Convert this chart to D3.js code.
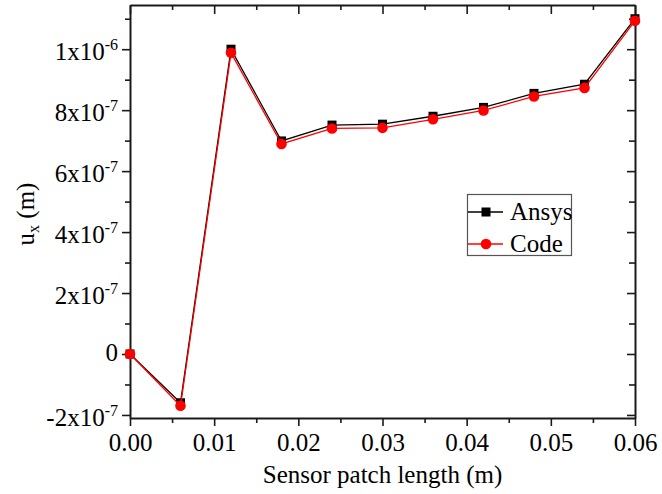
<!DOCTYPE html>
<html>
<head>
<meta charset="utf-8">
<script src="https://cdn.jsdelivr.net/npm/d3@7"></script>
<style>
  html, body { margin: 0; padding: 0; background: #fff; }
  svg { display: block; }
</style>
</head>
<body>
<svg id="chart" width="662" height="494"></svg>
<script>
// ---- data ----
const xValues = [0, 0.006, 0.012, 0.018, 0.024, 0.030, 0.036, 0.042, 0.048, 0.054, 0.060];
const ansys = [0, -1.60e-7, 1.000e-6, 0.699e-6, 0.751e-6, 0.754e-6, 0.780e-6, 0.809e-6, 0.855e-6, 0.885e-6, 1.100e-6];
const code  = [0, -1.70e-7, 0.988e-6, 0.689e-6, 0.740e-6, 0.742e-6, 0.770e-6, 0.799e-6, 0.845e-6, 0.873e-6, 1.093e-6];
const seriesNames = ["Ansys", "Code"];
const xTicks = [0, 0.01, 0.02, 0.03, 0.04, 0.05, 0.06];
const xTickLabels = ["0.00", "0.01", "0.02", "0.03", "0.04", "0.05", "0.06"];
const xMinorTicks = [0.005, 0.015, 0.025, 0.035, 0.045, 0.055];
const yTicks = [-2e-7, 0, 2e-7, 4e-7, 6e-7, 8e-7, 1e-6];
const yTickMantissa = ["-2x10", "0", "2x10", "4x10", "6x10", "8x10", "1x10"];
const yTickExponent = ["-7", "", "-7", "-7", "-7", "-7", "-6"];
const yMinorTicks = [-1e-7, 1e-7, 3e-7, 5e-7, 7e-7, 9e-7, 1.1e-6];
const xTitle = "Sensor patch length (m)";

// ---- layout ----
const FONT = "Liberation Serif";
const L = 130, R = 635, T = 5, B = 418;
const svg = d3.select("#chart");
const x = d3.scaleLinear().domain([0, 0.06]).range([L, R]);
const y = d3.scaleLinear().domain([-2.1e-7, 1.145e-6]).range([B, T]);
const axisColor = "#1a1a1a";
const fontSize = 25;

function styleAxis(g) {
  g.attr("font-family", null);
  g.selectAll("path.domain").attr("stroke", axisColor).attr("stroke-width", 2);
  g.selectAll(".tick line").attr("stroke", axisColor).attr("stroke-width", 1.6);
}

// bottom axis (outward ticks)
const gB = svg.append("g").attr("transform", `translate(0,${B})`)
  .call(d3.axisBottom(x).tickValues(xTicks).tickSize(8).tickSizeOuter(0)
    .tickFormat((d, i) => xTickLabels[i]));
styleAxis(gB);
gB.selectAll(".tick text").attr("y", 33).attr("dy", 0)
  .attr("font-size", fontSize).style("font-family", FONT).attr("fill", "#000");
svg.append("g").attr("transform", `translate(0,${B})`)
  .call(d3.axisBottom(x).tickValues(xMinorTicks).tickSize(5).tickSizeOuter(0).tickFormat(() => ""))
  .call(g => g.select("path.domain").remove()).call(styleAxis);

// top axis (inward ticks)
svg.append("g").attr("transform", `translate(0,${T})`)
  .call(d3.axisBottom(x).tickValues(xTicks).tickSize(9).tickSizeOuter(0).tickFormat(() => ""))
  .call(styleAxis);
svg.append("g").attr("transform", `translate(0,${T})`)
  .call(d3.axisBottom(x).tickValues(xMinorTicks).tickSize(5).tickSizeOuter(0).tickFormat(() => ""))
  .call(g => g.select("path.domain").remove()).call(styleAxis);

// left axis (outward ticks)
const gL = svg.append("g").attr("transform", `translate(${L},0)`)
  .call(d3.axisLeft(y).tickValues(yTicks).tickSize(8).tickSizeOuter(0).tickPadding(4).tickFormat(() => ""));
styleAxis(gL);
gL.selectAll(".tick text").each(function(d, i) {
  const t = d3.select(this);
  t.text(null).attr("font-size", fontSize).style("font-family", FONT)
    .attr("fill", "#000").attr("dy", 0)
    .attr("y", yTickExponent[i] ? 10.5 : 7);
  t.append("tspan").text(yTickMantissa[i]);
  if (yTickExponent[i]) {
    t.append("tspan").attr("font-size", 16).attr("dy", -10).text(yTickExponent[i]);
  }
});
svg.append("g").attr("transform", `translate(${L},0)`)
  .call(d3.axisLeft(y).tickValues(yMinorTicks).tickSize(5).tickSizeOuter(0).tickFormat(() => ""))
  .call(g => g.select("path.domain").remove()).call(styleAxis);

// right axis (inward ticks)
svg.append("g").attr("transform", `translate(${R},0)`)
  .call(d3.axisRight(y).tickValues(yTicks).tickSize(-8).tickSizeOuter(0).tickFormat(() => ""))
  .call(styleAxis);
svg.append("g").attr("transform", `translate(${R},0)`)
  .call(d3.axisRight(y).tickValues(yMinorTicks).tickSize(-6).tickSizeOuter(0).tickFormat(() => ""))
  .call(g => g.select("path.domain").remove()).call(styleAxis);

// axis titles
svg.append("text").attr("x", (L + R) / 2).attr("y", 483).attr("text-anchor", "middle")
  .attr("font-size", fontSize).style("font-family", FONT).attr("fill", "#000").text(xTitle);
const yt = svg.append("text").attr("transform", "translate(34,214) rotate(-90)")
  .attr("text-anchor", "middle").attr("font-size", fontSize).style("font-family", FONT).attr("fill", "#000");
yt.append("tspan").text("u");
yt.append("tspan").attr("font-size", 16).attr("dy", 5).text("x");
yt.append("tspan").attr("dy", -5).text(" (m)");

// series
const ansysData = xValues.map((v, i) => [v, ansys[i]]);
const codeData = xValues.map((v, i) => [v, code[i]]);
const line = d3.line().x(d => x(d[0])).y(d => y(d[1]));

svg.append("path").datum(ansysData).attr("d", line)
  .attr("fill", "none").attr("stroke", "#000").attr("stroke-width", 1.3);
svg.append("g").selectAll("rect").data(ansysData).join("rect")
  .attr("x", d => x(d[0]) - 4.5).attr("y", d => y(d[1]) - 4.5)
  .attr("width", 9).attr("height", 9).attr("fill", "#000");

svg.append("path").datum(codeData).attr("d", line)
  .attr("fill", "none").attr("stroke", "#ff0000").attr("stroke-width", 1.3);
svg.append("g").selectAll("circle").data(codeData).join("circle")
  .attr("cx", d => x(d[0])).attr("cy", d => y(d[1])).attr("r", 5.3).attr("fill", "#ff0000");

// legend
const lg = svg.append("g");
lg.append("rect").attr("x", 467.5).attr("y", 194.5).attr("width", 104).attr("height", 61)
  .attr("fill", "none").attr("stroke", "#555").attr("stroke-width", 1.2);
const rows = [212, 244];
const colors = ["#000", "#ff0000"];
seriesNames.forEach((name, i) => {
  lg.append("line").attr("x1", 468).attr("x2", 503).attr("y1", rows[i]).attr("y2", rows[i])
    .attr("stroke", colors[i]).attr("stroke-width", 1.3);
  if (i === 0) {
    lg.append("rect").attr("x", 486 - 4.5).attr("y", rows[i] - 4.5).attr("width", 9).attr("height", 9).attr("fill", "#000");
  } else {
    lg.append("circle").attr("cx", 486).attr("cy", rows[i]).attr("r", 5.3).attr("fill", "#ff0000");
  }
  lg.append("text").attr("x", 510).attr("y", rows[i] + 8).attr("font-size", fontSize)
    .style("font-family", FONT).attr("fill", "#000").text(name);
});
</script>
</body>
</html>
